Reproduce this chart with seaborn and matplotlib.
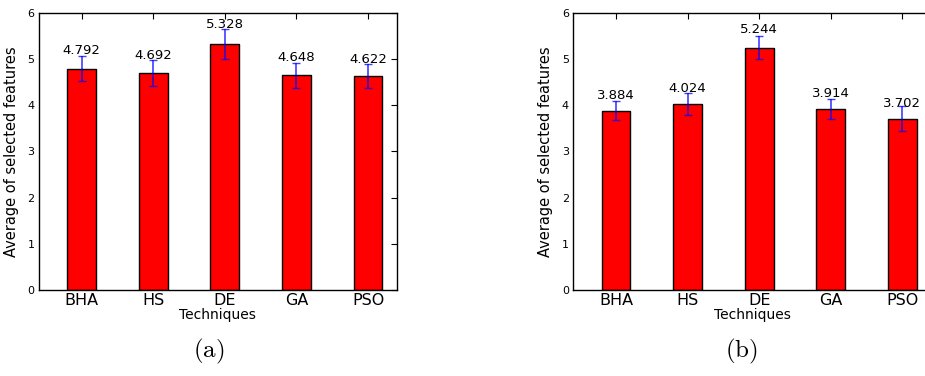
import matplotlib
matplotlib.use("Agg")
import matplotlib.pyplot as plt
import seaborn as sns
import pandas as pd

techniques = ["BHA", "HS", "DE", "GA", "PSO"]
avg_a = [4.792, 4.692, 5.328, 4.648, 4.622]
err_a = [0.275, 0.28, 0.32, 0.27, 0.26]
avg_b = [3.884, 4.024, 5.244, 3.914, 3.702]
err_b = [0.21, 0.23, 0.255, 0.21, 0.27]
captions = ["(a)", "(b)"]

sns.set_style("white")
plt.rcParams["font.family"] = ["DejaVu Sans"]
plt.rcParams["mathtext.fontset"] = "cm"
plt.rcParams["text.color"] = "black"
plt.rcParams["axes.labelcolor"] = "black"
plt.rcParams["xtick.color"] = "black"
plt.rcParams["ytick.color"] = "black"

fig = plt.figure(figsize=(9.25, 3.76), dpi=100)
ax_a = fig.add_axes([0.0418, 0.2287, 0.387, 0.7375])
ax_b = fig.add_axes([0.6195, 0.2287, 0.387, 0.7375])

for ax, vals, errs, cap in [(ax_a, avg_a, err_a, captions[0]),
                            (ax_b, avg_b, err_b, captions[1])]:
    df = pd.DataFrame({"Techniques": techniques, "Average": vals})
    sns.barplot(data=df, x="Techniques", y="Average", color="#ff0000",
                saturation=1, width=0.4, edgecolor="black", linewidth=1,
                errorbar=None, ax=ax)
    ax.errorbar(range(len(vals)), vals, yerr=errs, fmt="none",
                ecolor="#0000ff", elinewidth=1.2, capsize=3, alpha=0.75)
    for i, v in enumerate(vals):
        ax.text(i, 1.05 * v, "%.3f" % v, ha="center", va="bottom",
                fontsize=9.5, color="black")
    ax.set_xlim(-0.6, 4.4)
    ax.set_ylim(0, 6)
    ax.set_ylabel("Average of selected features", fontsize=10.5, labelpad=6)
    ax.set_xlabel("Techniques", fontsize=10, labelpad=0)
    ax.tick_params(axis="x", labelsize=11.5, direction="in", top=True,
                   length=4, pad=2)
    ax.tick_params(axis="y", labelsize=8, direction="in", right=True,
                   length=4, pad=3)
    for s in ax.spines.values():
        s.set_visible(True)
        s.set_color("black")
        s.set_linewidth(1)
    pos = ax.get_position()
    fig.text((pos.x0 + pos.x1) / 2 - 0.01 if ax is ax_a else 0.802,
             0.064, "$\\mathrm{%s}$" % cap, ha="center", va="center",
             fontsize=18)

fig.savefig("out.png", dpi=100)
